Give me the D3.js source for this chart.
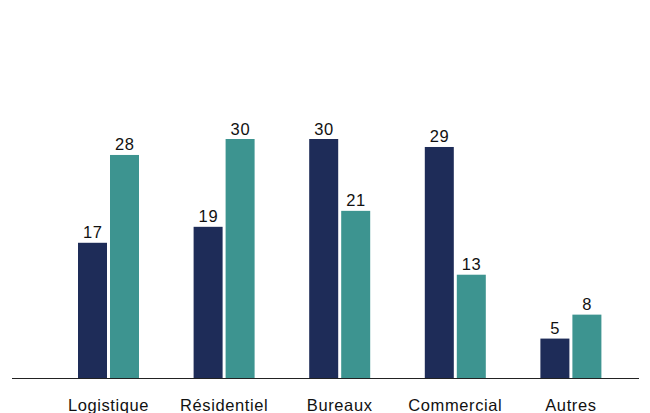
<!DOCTYPE html>
<html><head><meta charset="utf-8">
<script src="https://cdn.jsdelivr.net/npm/d3@7"></script>
<style>body{margin:0;background:#fff}svg{display:block}</style>
</head><body>
<svg id="c" width="650" height="413"></svg>
<script>
const categories = ["Logistique","Résidentiel","Bureaux","Commercial","Autres"];
const series = ["A","B"];
const seriesA = [17,19,30,29,5];
const seriesB = [28,30,21,13,8];
const colors = ["#1e2c58","#3d9490"];

const svg = d3.select("#c");
const baseY = 378.5;
const x0 = d3.scaleBand().domain(categories).range([50.7, 628.7]).padding(0);
const groupW = 61;
const x1 = d3.scaleBand().domain(series).range([0, groupW]).paddingInner(3/32);
const y = d3.scaleLinear().domain([0,30]).range([baseY, 139]);

const data = categories.map((c,i)=>({cat:c, vals:[seriesA[i], seriesB[i]]}));
const g = svg.selectAll("g.grp").data(data).join("g")
  .attr("transform", d=>`translate(${x0(d.cat)+x0.bandwidth()/2-groupW/2},0)`);

g.selectAll("rect").data(d=>d.vals.map((v,j)=>({s:series[j],v,j}))).join("rect")
  .attr("x", d=>x1(d.s)).attr("width", x1.bandwidth())
  .attr("y", d=>y(d.v)).attr("height", d=>baseY - y(d.v))
  .attr("fill", d=>colors[d.j]);

g.selectAll("text.v").data(d=>d.vals.map((v,j)=>({s:series[j],v,j}))).join("text")
  .attr("class","v")
  .attr("x", d=>x1(d.s)+x1.bandwidth()/2+0.3).attr("y", d=>y(d.v)-4.5)
  .attr("text-anchor","middle")
  .style("font-family","'Liberation Sans', Arial, sans-serif")
  .style("font-size","16.5px").style("letter-spacing","0.6px")
  .attr("fill","#111").text(d=>d.v);

const axis = d3.axisBottom(x0).tickSize(0).tickPadding(0);
const ax = svg.append("g").attr("transform",`translate(0,${baseY})`).call(axis);
ax.select(".domain").remove();
ax.selectAll("text")
  .attr("y", 32).attr("dy", 0)
  .style("font-family","'Liberation Sans', Arial, sans-serif")
  .style("font-size","16.5px").style("letter-spacing","0.6px")
  .attr("fill","#111");
svg.append("line").attr("x1",12).attr("x2",639).attr("y1",baseY).attr("y2",baseY)
  .attr("stroke","#222").attr("stroke-width",1);
</script>
</body></html>
